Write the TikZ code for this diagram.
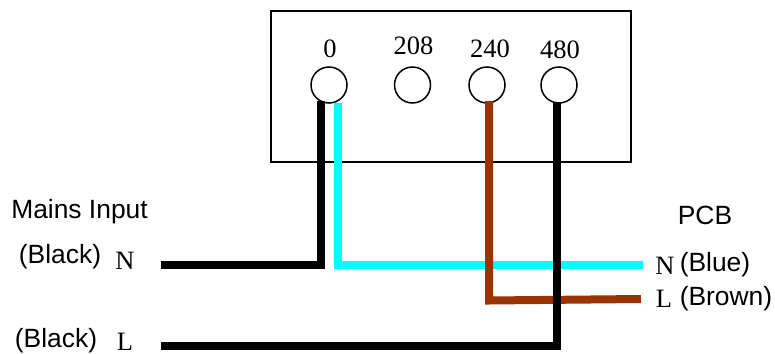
\documentclass[tikz,border=0pt]{standalone}
\usepackage{fontspec}
\setmainfont{Liberation Serif}
\newfontfamily\labelsans{Liberation Sans}
\definecolor{wirecyan}{rgb}{0,1,1}
\definecolor{wirebrown}{rgb}{0.6,0.2,0}
\tikzset{
  x=1pt,y=-1pt,
  term/.style={circle,draw=black,line width=1.5pt,minimum size=36pt,inner sep=0pt},
  panel/.style={draw=black,line width=1.5pt},
  wire/.style={line width=8pt,line cap=butt,line join=miter},
  ser/.style={anchor=base,inner sep=0pt,font=\fontsize{26.5}{27}\selectfont},
  san/.style={anchor=base,inner sep=0pt,font=\labelsans\fontsize{26.4}{27}\selectfont},
}
\begin{document}
\begin{tikzpicture}
\useasboundingbox (0,0) rectangle (775,353);
\draw[panel] (271,11) rectangle (631,162);
\node[term] (t0) at (329,85) {};
\node[term] (t208) at (412.5,85) {};
\node[term] (t240) at (487,85) {};
\node[term] (t480) at (559,85) {};
\node[ser] (l0) at (330,57) {0};
\node[ser] (l208) at (413.5,55) {208};
\node[ser] (l240) at (490,57) {240};
\node[ser] (l480) at (560,59) {480};
\node[san] (mains) at (79.5,218) {Mains Input};
\node[san] (blackn) at (60,263) {(Black)};
\node[ser] (nleft) at (125,269) {N};
\node[san] (blackl) at (56,347) {(Black)};
\node[ser] (lleft) at (125,350) {L};
\node[san] (pcb) at (705,224) {PCB};
\node[ser] (nright) at (665,274) {N};
\node[san] (blue) at (715,271) {(Blue)};
\node[ser] (lright) at (664,307) {L};
\node[san] (brown) at (726,305) {(Brown)};
\coordinate (a0) at (321,101);
\coordinate (a1) at (321,265);
\coordinate (a2) at (161,265);
\coordinate (b0) at (337.5,103);
\coordinate (b1) at (337.5,265);
\coordinate (b2) at (643,265);
\coordinate (c0) at (489,101);
\coordinate (c1) at (489,300.5);
\coordinate (c2) at (641,299);
\coordinate (d0) at (557,102);
\coordinate (d1) at (557,346);
\coordinate (d2) at (161,346);
\draw[wire,wirecyan] (b0) -- (b1) -- (b2);
\draw[wire,wirebrown] (c0) -- (c1) -- (c2);
\draw[wire,black] (a0) -- (a1) -- (a2);
\draw[wire,black] (d0) -- (d1) -- (d2);
\end{tikzpicture}
\end{document}
